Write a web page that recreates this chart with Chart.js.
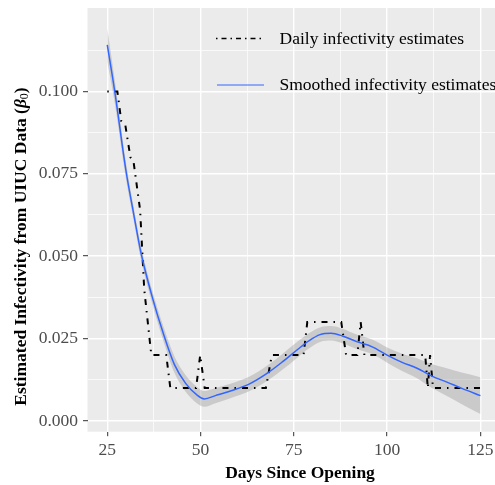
<!DOCTYPE html>
<html>
<head>
  <title>Estimated infectivity</title>
  <script src="https://cdn.jsdelivr.net/npm/chart.js"></script>
  <style>
    body { margin: 0; background: #fff; }
    canvas { display: block; }
  </style>
</head>
<body>
  <canvas id="infChart" width="495" height="485"></canvas>

  <script>
    // values
    const dailyDays = [25, 27.7, 28.75, 29.8, 31.2, 32.0, 33.8, 34.9, 36.8, 40.8, 41.9, 48.8, 49.9, 51.1,
      67.5, 69.1, 77.6, 78.6, 87.7, 89.0, 92.0, 92.9, 93.9, 110.2, 110.9, 111.5, 112.3, 125];
    const dailyValues = [0.100, 0.100, 0.091, 0.090, 0.080, 0.079, 0.064, 0.040, 0.020, 0.020, 0.010, 0.010, 0.020, 0.010,
      0.010, 0.020, 0.020, 0.030, 0.030, 0.020, 0.020, 0.030, 0.020, 0.020, 0.010, 0.020, 0.010, 0.010];

    const smoothDays = [25, 27, 30, 32, 34, 37, 40, 43, 46, 49, 51, 54, 58, 63, 68, 72, 76, 79, 82, 85,
      88, 92, 96, 100, 104, 108, 112, 116, 120, 125];
    const smoothValues = [0.1141, 0.1000, 0.0760, 0.0633, 0.0512, 0.0378, 0.0266, 0.0171, 0.0114, 0.0079,
      0.0067, 0.0077, 0.0091, 0.0112, 0.0146, 0.0180, 0.0217, 0.0243, 0.0262, 0.0266,
      0.0258, 0.0240, 0.0225, 0.0200, 0.0178, 0.0160, 0.0136, 0.0118, 0.0099, 0.0077];
    const bandUpper = [0.1191, 0.1035, 0.0785, 0.0653, 0.0532, 0.0398, 0.0288, 0.0196, 0.0139, 0.0104,
      0.0091, 0.0100, 0.0113, 0.0134, 0.0169, 0.0204, 0.0241, 0.0266, 0.0284, 0.0288,
      0.0280, 0.0262, 0.0247, 0.0223, 0.0204, 0.0190, 0.0172, 0.0160, 0.0147, 0.0133];
    const bandLower = [0.1091, 0.0965, 0.0735, 0.0613, 0.0492, 0.0358, 0.0244, 0.0146, 0.0089, 0.0054,
      0.0043, 0.0054, 0.0069, 0.0090, 0.0123, 0.0156, 0.0193, 0.0220, 0.0240, 0.0244,
      0.0236, 0.0218, 0.0203, 0.0177, 0.0152, 0.0130, 0.0100, 0.0076, 0.0051, 0.0021];

    const xTicks = [25, 50, 75, 100, 125];
    const xMinor = [37.5, 62.5, 87.5, 112.5];
    const yTicks = [0, 0.025, 0.05, 0.075, 0.1];
    const yMinor = [0.0125, 0.0375, 0.0625, 0.0875, 0.1125];

    const legendLabels = ['Daily infectivity estimates', 'Smoothed infectivity estimates'];
    const xTitle = 'Days Since Opening';
    const yTitle = 'Estimated Infectivity from UIUC Data (';

    const pts = (xs, ys) => xs.map((x, i) => ({ x: x, y: ys[i] }));
    const serif = '"Liberation Serif", "Times New Roman", serif';
    const isMajor = (list, v) => list.some(t => Math.abs(t - v) < 1e-9);

    const panel = {
      id: 'panel',
      beforeDraw(chart) {
        const { ctx, chartArea: a } = chart;
        ctx.save();
        ctx.fillStyle = '#EBEBEB';
        ctx.fillRect(a.left, a.top, a.right - a.left, a.bottom - a.top);
        ctx.restore();
      }
    };

    // legend keys and axis titles drawn by hand (ggplot-style placement)
    const annot = {
      id: 'annot',
      afterDraw(chart) {
        const ctx = chart.ctx;
        ctx.save();
        ctx.lineWidth = 1.5;
        ctx.strokeStyle = '#000';
        ctx.setLineDash([1.5, 4, 5, 4]);
        ctx.beginPath(); ctx.moveTo(216, 38.5); ctx.lineTo(265, 38.5); ctx.stroke();
        ctx.setLineDash([]);
        ctx.strokeStyle = '#3366FF';
        ctx.lineWidth = 1;
        ctx.beginPath(); ctx.moveTo(217, 85); ctx.lineTo(264, 85); ctx.stroke();

        ctx.fillStyle = '#000';
        ctx.textBaseline = 'middle';
        ctx.font = '17.5px ' + serif;
        ctx.fillText(legendLabels[0], 279.5, 39);
        ctx.fillText(legendLabels[1], 279.5, 85);

        ctx.font = 'bold 17.5px ' + serif;
        ctx.textAlign = 'center';
        ctx.fillText(xTitle, 300, 473);

        // y title with beta_0
        ctx.translate(21, 246.5);
        ctx.rotate(-Math.PI / 2);
        ctx.textAlign = 'left';
        const fMain = 'bold 17.5px ' + serif, fBeta = 'italic bold 17.5px ' + serif, fSub = '12px ' + serif;
        ctx.font = fMain; const w1 = ctx.measureText(yTitle).width; const w4 = ctx.measureText(')').width;
        ctx.font = fBeta; const w2 = ctx.measureText('β').width;
        ctx.font = fSub; const w3 = ctx.measureText('0').width;
        let x = -(w1 + w2 + w3 + w4) / 2;
        ctx.font = fMain; ctx.fillText(yTitle, x, 0); x += w1;
        ctx.font = fBeta; ctx.fillText('β', x, 0); x += w2;
        ctx.font = fSub; ctx.fillText('0', x, 4); x += w3;
        ctx.font = fMain; ctx.fillText(')', x, 0);
        ctx.restore();
      }
    };

    const gridOpts = list => ({
      color: '#FFFFFF',
      lineWidth: c => isMajor(list, c.tick.value) ? 1.4 : 0.7,
      tickColor: c => isMajor(list, c.tick.value) ? '#333333' : 'rgba(0,0,0,0)',
      tickWidth: 1,
      tickLength: 4.5
    });

    new Chart(document.getElementById('infChart'), {
      type: 'line',
      data: {
        datasets: [
          { label: 'upper', data: pts(smoothDays, bandUpper), borderWidth: 0, pointRadius: 0,
            fill: false, cubicInterpolationMode: 'monotone', order: 3 },
          { label: 'lower', data: pts(smoothDays, bandLower), borderWidth: 0, pointRadius: 0,
            fill: '-1', backgroundColor: 'rgba(153,153,153,0.4)', cubicInterpolationMode: 'monotone', order: 2 },
          { label: legendLabels[0], data: pts(dailyDays, dailyValues), borderColor: '#000',
            borderWidth: 2, borderDash: [1.5, 6, 6, 6], pointRadius: 0, tension: 0, fill: false, order: 1 },
          { label: legendLabels[1], data: pts(smoothDays, smoothValues), borderColor: '#3366FF',
            borderWidth: 1.5, pointRadius: 0, cubicInterpolationMode: 'monotone', fill: false, order: 0 }
        ]
      },
      options: {
        responsive: false,
        animation: false,
        layout: { padding: { top: 8, right: 0, left: 0, bottom: 0 } },
        plugins: { legend: { display: false }, tooltip: { enabled: false } },
        scales: {
          x: {
            type: 'linear', min: 19.7, max: 128.9,
            afterBuildTicks: s => { s.ticks = xTicks.concat(xMinor).sort((a, b) => a - b).map(v => ({ value: v })); },
            afterFit: s => { s.height = 53.3; s.paddingLeft = 0; s.paddingRight = 0; },
            grid: gridOpts(xTicks),
            border: { display: false },
            ticks: {
              autoSkip: false, maxRotation: 0, padding: 4, color: '#4D4D4D',
              font: { family: serif, size: 17.5 },
              callback: v => isMajor(xTicks, v) ? String(v) : ''
            }
          },
          y: {
            type: 'linear', min: -0.00325, max: 0.1253,
            afterBuildTicks: s => { s.ticks = yTicks.concat(yMinor).sort((a, b) => a - b).map(v => ({ value: v })); },
            afterFit: s => { s.width = 87.5; s.paddingTop = 0; s.paddingBottom = 0; },
            grid: gridOpts(yTicks),
            border: { display: false },
            ticks: {
              autoSkip: false, padding: 5, color: '#4D4D4D',
              font: { family: serif, size: 17.5 },
              callback: v => isMajor(yTicks, v) ? v.toFixed(3) : ''
            }
          }
        }
      },
      plugins: [panel, annot]
    });
  </script>
</body>
</html>
